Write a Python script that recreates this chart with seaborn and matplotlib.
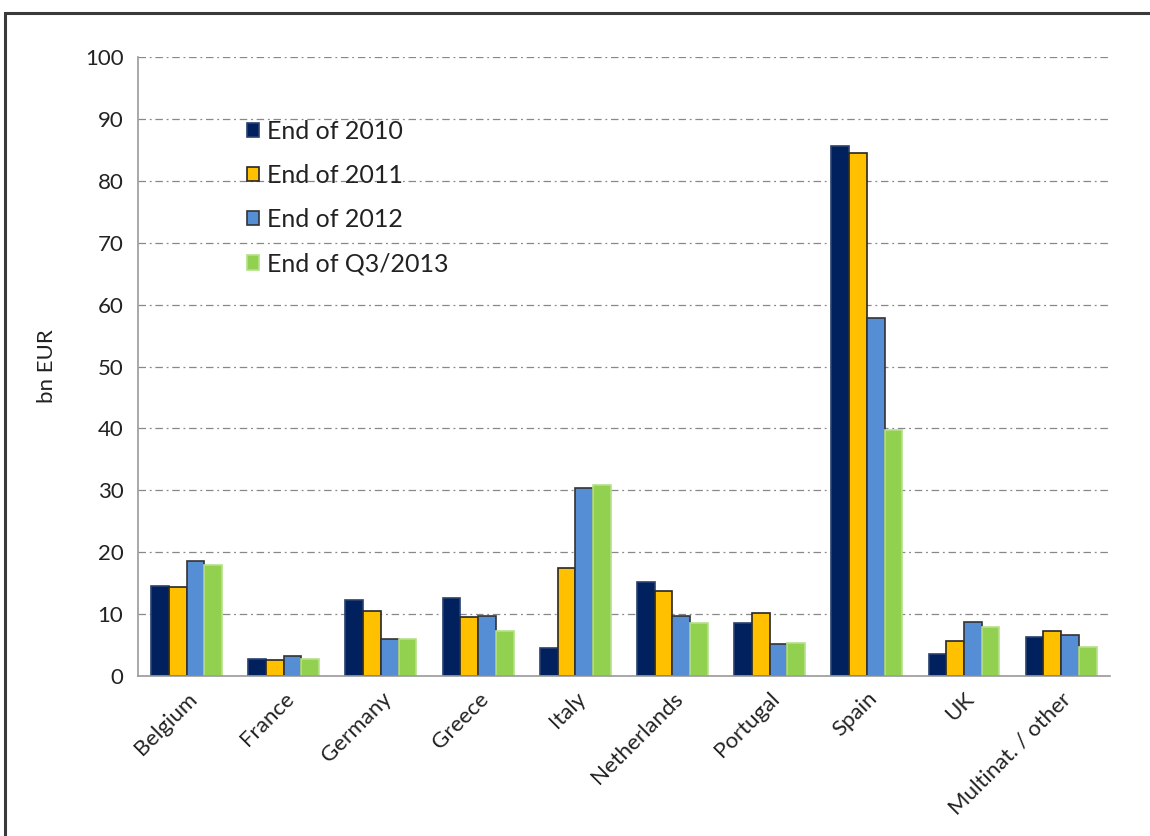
import matplotlib
matplotlib.use("Agg")
import matplotlib.pyplot as plt
import seaborn as sns
import pandas as pd
import numpy as np
from matplotlib.patches import Patch, Rectangle

countries = ["Belgium", "France", "Germany", "Greece", "Italy", "Netherlands",
             "Portugal", "Spain", "UK", "Multinat. / other"]
series_names = ["End of 2010", "End of 2011", "End of 2012", "End of Q3/2013"]
end_2010 = [14.6, 2.7, 12.2, 12.6, 4.5, 15.2, 8.5, 85.6, 3.5, 6.3]
end_2011 = [14.4, 2.6, 10.5, 9.6, 17.4, 13.7, 10.2, 84.5, 5.7, 7.3]
end_2012 = [18.5, 3.2, 6.0, 9.7, 30.4, 9.7, 5.2, 57.8, 8.8, 6.6]
end_q3_2013 = [18.0, 2.7, 5.9, 7.3, 30.9, 8.5, 5.3, 39.7, 7.9, 4.7]
y_ticks = [0, 10, 20, 30, 40, 50, 60, 70, 80, 90, 100]

colors = ["#00215E", "#FFC000", "#558ED5", "#92D050"]
edges = ["#2A4170", "#262626", "#333333", "#B5E08A"]

sns.set_style("white")
plt.rcParams["font.family"] = ["Lato", "DejaVu Sans"]

df = pd.DataFrame({
    "country": countries * 4,
    "series": sum([[s] * len(countries) for s in series_names], []),
    "value": end_2010 + end_2011 + end_2012 + end_q3_2013,
})

fig = plt.figure(figsize=(11.5, 8.36), dpi=100)
ax = fig.add_axes([0.12, 0.1914, 0.845, 0.7404])

sns.barplot(data=df, x="country", y="value", hue="series", order=countries,
            hue_order=series_names, palette=colors, saturation=1, width=0.73, gap=0,
            errorbar=None, ax=ax, legend=False, linewidth=1.2)

for cont, ec in zip(ax.containers, edges):
    for bar in cont:
        bar.set_edgecolor(ec)

ax.set_ylim(0, 100)
ax.set_xlim(-0.5, len(countries) - 0.5)
ax.set_yticks(y_ticks)
ax.set_yticklabels([str(t) for t in y_ticks], fontsize=16, color="#222222")
ax.yaxis.grid(True, linestyle=(0, (6, 3, 1.5, 3)), color="#888888", linewidth=0.9)
ax.set_axisbelow(True)

ax.set_xticks(range(len(countries)))
ax.set_xticklabels(countries, rotation=45, ha="right", rotation_mode="anchor",
                   fontsize=16, color="#222222")
ax.tick_params(axis="x", which="major", length=0, pad=9)
ax.set_xticks(np.arange(-0.5, len(countries), 1.0), minor=True)
ax.tick_params(axis="x", which="minor", length=8, color="#999999", width=1.2, direction="out")
ax.tick_params(axis="y", length=5, color="#999999", width=1, direction="inout", pad=8)

ax.set_xlabel("")
ax.set_ylabel("bn EUR", fontsize=16, color="#222222", labelpad=20)

for s in ["top", "right"]:
    ax.spines[s].set_visible(False)
for s in ["left", "bottom"]:
    ax.spines[s].set_color("#999999")
    ax.spines[s].set_linewidth(1.2)

handles = [Patch(facecolor=c, edgecolor=e, linewidth=1.2) for c, e in zip(colors, edges)]
leg = ax.legend(handles, series_names, loc="upper left", bbox_to_anchor=(0.089, 0.935),
                frameon=False, fontsize=18, handlelength=0.5, handleheight=0.5,
                handletextpad=0.3, labelspacing=0.85)
for t in leg.get_texts():
    t.set_color("#222222")

# outer frame of the screenshot
fig.patches.append(Rectangle((5 / 1150, -0.05), 1.2, 1 - 13 / 836 + 0.05,
                             transform=fig.transFigure, fill=False,
                             edgecolor="#3A3A3A", linewidth=2.2, zorder=10))

fig.savefig("out.png", dpi=100, facecolor="white")
